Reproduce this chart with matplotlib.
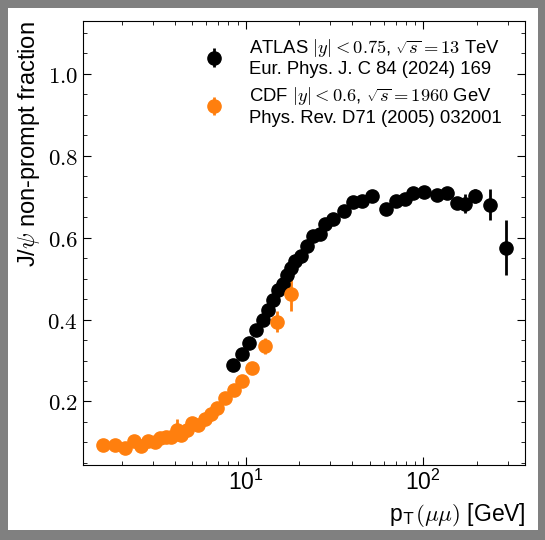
import matplotlib
matplotlib.use("Agg")
import matplotlib.pyplot as plt
from matplotlib.patches import Rectangle
from matplotlib.ticker import FuncFormatter, MultipleLocator
import numpy as np

plt.rcParams['mathtext.fontset'] = 'cm'
plt.rcParams['font.family'] = ['Liberation Sans', 'DejaVu Sans']

# ATLAS 13 TeV
atlas_pt = [8.5, 9.5, 10.5, 11.5, 12.5, 13.3, 14.3, 15.3, 16.2, 17.2, 18.1, 19.1,
            20.4, 22.3, 24.1, 26.3, 28.1, 31.2, 35.7, 40.2, 45.4, 51.7, 61.4, 70.3,
            78.7, 88.1, 100.9, 119, 137, 155, 172, 197, 238, 292]
atlas_frac = [0.288, 0.316, 0.344, 0.374, 0.400, 0.423, 0.449, 0.472, 0.486, 0.510,
              0.525, 0.542, 0.556, 0.579, 0.603, 0.609, 0.633, 0.645, 0.665, 0.686,
              0.690, 0.702, 0.671, 0.690, 0.695, 0.709, 0.712, 0.703, 0.708, 0.684,
              0.683, 0.702, 0.681, 0.576]
atlas_err = [0.003, 0.003, 0.003, 0.003, 0.003, 0.003, 0.003, 0.003, 0.003, 0.003,
             0.003, 0.003, 0.003, 0.003, 0.003, 0.003, 0.003, 0.003, 0.003, 0.004,
             0.004, 0.005, 0.005, 0.006, 0.006, 0.007, 0.008, 0.009, 0.010, 0.012,
             0.023, 0.018, 0.039, 0.067]

# CDF 1960 GeV
cdf_pt = [1.57, 1.83, 2.08, 2.34, 2.57, 2.83, 3.08, 3.31, 3.57, 3.82, 4.09, 4.32,
          4.69, 5.01, 5.41, 5.93, 6.37, 6.91, 7.62, 8.57, 9.60, 10.9, 12.8, 15.1, 18.0]
cdf_frac = [0.094, 0.094, 0.086, 0.103, 0.092, 0.103, 0.101, 0.111, 0.113, 0.113,
            0.130, 0.118, 0.130, 0.147, 0.143, 0.158, 0.170, 0.183, 0.209, 0.227,
            0.249, 0.281, 0.336, 0.395, 0.463]
cdf_err = [0.005, 0.005, 0.005, 0.005, 0.005, 0.005, 0.005, 0.005, 0.005, 0.005,
           0.027, 0.005, 0.005, 0.005, 0.005, 0.005, 0.006, 0.006, 0.007, 0.008,
           0.009, 0.010, 0.020, 0.026, 0.042]

fig = plt.figure(figsize=(5.45, 5.4), dpi=100)
fig.patch.set_facecolor('#808080')
fig.patches.append(Rectangle((8/545, 10/540), 530/545, 522/540, transform=fig.transFigure,
                             facecolor='white', edgecolor='none', zorder=-5))
ax = fig.add_axes([0.152, 0.139, 0.812, 0.822])

ax.errorbar(atlas_pt, atlas_frac, yerr=atlas_err, fmt='o', color='black', ms=9.5,
            elinewidth=2, capsize=0,
            label='ATLAS $|y|<0.75$, $\\sqrt{s}=13$ TeV\nEur. Phys. J. C 84 (2024) 169')
ax.errorbar(cdf_pt, cdf_frac, yerr=cdf_err, fmt='o', color='#ff7f0e', ms=9.5,
            elinewidth=2, capsize=0,
            label='CDF $|y|<0.6$, $\\sqrt{s}=1960$ GeV\nPhys. Rev. D71 (2005) 032001')

ax.set_xscale('log')
ax.set_xlim(1.21, 377)
ax.set_ylim(0.045, 1.129)
ax.yaxis.set_major_locator(MultipleLocator(0.2))
ax.yaxis.set_minor_locator(MultipleLocator(0.05))
ax.yaxis.set_major_formatter(FuncFormatter(lambda v, p: '$%.1f$' % v))
ax.tick_params(which='both', direction='in', top=True, right=True, labelsize=16.5)
ax.tick_params(which='major', length=6)
ax.tick_params(which='minor', length=3)

ax.set_ylabel(r'J/$\psi$ non-prompt fraction', fontsize=17, loc='top')
ax.set_xlabel(r'p$_\mathsf{T}(\mu\mu)$ [GeV]', fontsize=16.5, loc='right')

ax.legend(loc='upper right', bbox_to_anchor=(0.964, 0.981), frameon=False,
          fontsize=13.3, handletextpad=0.9, labelspacing=0.35, borderaxespad=0)

fig.savefig('out.png', dpi=100, facecolor=fig.get_facecolor())
